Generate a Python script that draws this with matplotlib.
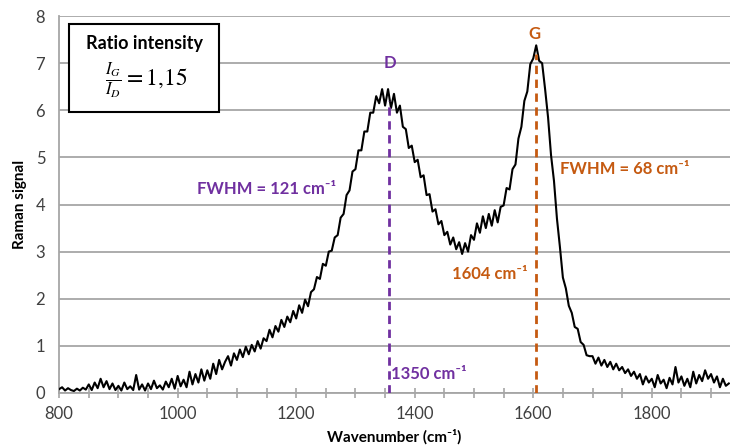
import numpy as np
import matplotlib.pyplot as plt
from matplotlib.ticker import MultipleLocator

# Raman spectrum, one value every 5 cm-1 from 800
start_wn = 800
step_wn = 5
signal = [
    0.08, 0.12, 0.05, 0.10, 0.06, 0.04, 0.09, 0.05, 0.11, 0.07,  # 800
    0.18, 0.06, 0.22, 0.10, 0.30, 0.12, 0.25, 0.08, 0.20, 0.06,  # 850
    0.15, 0.05, 0.22, 0.08, 0.14, 0.06, 0.38, 0.07, 0.18, 0.05,  # 900
    0.20, 0.08, 0.26, 0.10, 0.16, 0.07, 0.24, 0.12, 0.30, 0.09,  # 950
    0.36, 0.14, 0.28, 0.12, 0.45, 0.18, 0.40, 0.22, 0.50, 0.26,  # 1000
    0.48, 0.30, 0.62, 0.40, 0.70, 0.50, 0.66, 0.78, 0.58, 0.84,  # 1050
    0.70, 0.92, 0.76, 0.98, 0.82, 1.02, 0.88, 1.10, 0.94, 1.16,  # 1100
    1.10, 1.34, 1.18, 1.42, 1.30, 1.55, 1.40, 1.62, 1.50, 1.74,  # 1150
    1.58, 1.86, 1.70, 1.98, 1.84, 2.14, 2.20, 2.46, 2.42, 2.74,  # 1200
    2.70, 3.00, 3.02, 3.30, 3.35, 3.72, 3.80, 4.20, 4.30, 4.70,  # 1250
    4.75, 5.15, 5.15, 5.55, 5.55, 5.95, 5.95, 6.30, 6.15, 6.45,  # 1300
    6.10, 6.45, 6.05, 6.35, 5.95, 6.10, 5.65, 5.60, 5.20, 5.25,  # 1350
    4.90, 4.95, 4.58, 4.62, 4.20, 4.22, 3.85, 3.90, 3.58, 3.65,  # 1400
    3.35, 3.42, 3.15, 3.30, 3.05, 3.20, 2.95, 3.18, 3.00, 3.35,  # 1450
    3.25, 3.60, 3.40, 3.75, 3.50, 3.80, 3.55, 3.88, 3.62, 3.95,  # 1500
    3.98, 4.35, 4.32, 4.75, 4.85, 5.40, 5.65, 6.20, 6.40, 6.98,  # 1550
    7.10, 7.38, 7.05, 7.00, 6.45, 5.85, 5.05, 4.50, 3.70, 3.10,  # 1600
    2.45, 2.22, 1.85, 1.70, 1.40, 1.36, 1.08, 1.02, 0.80, 0.78,  # 1650
    0.78, 0.62, 0.75, 0.58, 0.70, 0.55, 0.66, 0.50, 0.62, 0.48,  # 1700
    0.55, 0.42, 0.50, 0.36, 0.45, 0.30, 0.40, 0.18, 0.35, 0.22,  # 1750
    0.30, 0.12, 0.38, 0.20, 0.28, 0.10, 0.32, 0.18, 0.55, 0.22,  # 1800
    0.35, 0.15, 0.30, 0.12, 0.45, 0.20, 0.38, 0.25, 0.48, 0.30,  # 1850
    0.40, 0.22, 0.35, 0.12, 0.30, 0.15, 0.20,                    # 1900
]
wavenumber = [start_wn + step_wn * i for i in range(len(signal))]

d_pos = 1357
g_pos = 1605
d_top = 6.2
g_top = 7.2

purple = '#7030A0'
brown = '#C55A11'
FONT = ['Lato', 'DejaVu Sans']

plt.rcParams['font.family'] = FONT
plt.rcParams['mathtext.fontset'] = 'stix'

fig = plt.figure(figsize=(7.30, 4.48), dpi=100)
ax = fig.add_axes([0.081, 0.123, 0.919, 0.841])

ax.plot(wavenumber, signal, c='black', lw=1.5, zorder=3)

ax.plot([d_pos, d_pos], [0, d_top], ls=(0, (3, 2)), c=purple, lw=2, zorder=4)
ax.plot([g_pos, g_pos], [0, g_top], ls=(0, (3, 2)), c=brown, lw=2, zorder=4)

ax.set_xlim(800, 1932)
ax.set_ylim(0, 8)
ax.xaxis.set_major_locator(MultipleLocator(200))
ax.xaxis.set_minor_locator(MultipleLocator(50))
ax.yaxis.set_major_locator(MultipleLocator(1))
ax.yaxis.grid(True, color='#a6a6a6', lw=1.3)
ax.set_axisbelow(True)

for s in ['top', 'right']:
    ax.spines[s].set_visible(False)
for s in ['left', 'bottom']:
    ax.spines[s].set_color('#a6a6a6')
    ax.spines[s].set_linewidth(1.3)

ax.tick_params(axis='x', which='both', direction='inout', length=7, width=1.2,
               color='#a6a6a6', labelsize=12, labelcolor='#404040', pad=6)
ax.tick_params(axis='y', length=0, labelsize=12, labelcolor='#404040', pad=10)

ax.set_xlabel('Wavenumber (cm⁻¹)', fontsize=11, fontweight='bold', labelpad=5)
ax.set_ylabel('Raman signal', fontsize=11, fontweight='bold', labelpad=6)

ax.text(d_pos + 2, 6.9, 'D', color=purple, fontsize=12, fontweight='bold', ha='center')
ax.text(g_pos - 3, 7.52, 'G', color=brown, fontsize=12, fontweight='bold', ha='center')
ax.text(1150, 4.22, 'FWHM = 121 cm⁻¹', color=purple, fontsize=12, fontweight='bold', ha='center')
ax.text(1645, 4.65, 'FWHM = 68 cm⁻¹', color=brown, fontsize=12, fontweight='bold', ha='left')
ax.text(1590, 2.42, '1604 cm⁻¹', color=brown, fontsize=12, fontweight='bold', ha='right')
ax.text(d_pos + 3, 0.3, '1350 cm⁻¹', color=purple, fontsize=12, fontweight='bold', ha='left')

# ratio box
fig.patches.append(plt.Rectangle((69 / 730, 1 - 112 / 448), 150 / 730, 88 / 448,
                                 transform=fig.transFigure, fill=True, fc='white',
                                 ec='black', lw=1.5, zorder=5))
fig.text(144 / 730, 1 - 44 / 448, 'Ratio intensity', fontsize=13, fontweight='bold',
         ha='center', va='center', zorder=6)
fig.text(146 / 730, 1 - 80 / 448, r'$\frac{I_G}{I_D} = 1{,}15$', fontsize=17,
         ha='center', va='center', zorder=6)

fig.savefig('out.png', dpi=100)
